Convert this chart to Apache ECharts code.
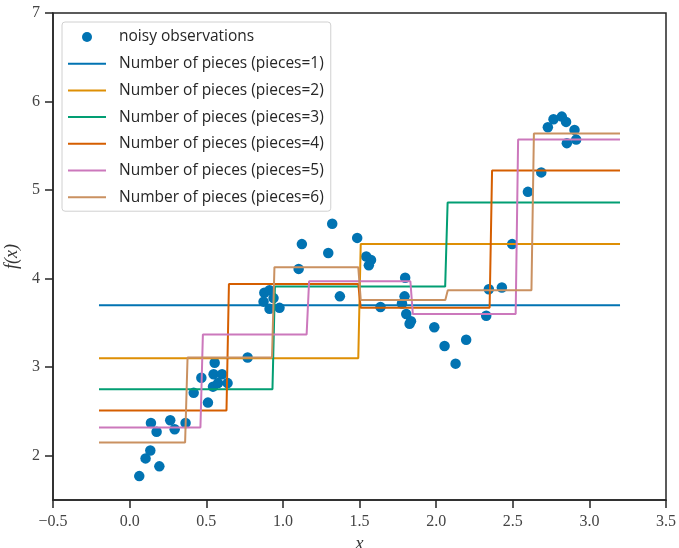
<!DOCTYPE html>
<html>
<head>
<meta charset="utf-8">
<script src="https://cdn.jsdelivr.net/npm/echarts@6/dist/echarts.min.js"></script>
<style>
  html, body { margin: 0; padding: 0; background: #fff; }
  #chart { width: 679px; height: 548px; }
</style>
</head>
<body>
<div id="chart"></div>
<script>
// noisy observations
const obsX = [0.063, 0.104, 0.135, 0.194, 0.139, 0.176, 0.265, 0.294, 0.365, 0.418, 0.511, 0.468, 0.555, 0.548, 0.603, 0.544, 0.577, 0.639, 0.770,
  0.879, 0.913, 0.939, 0.874, 0.913, 0.978, 1.103, 1.124, 1.296, 1.322, 1.372, 1.485, 1.544, 1.575, 1.561, 1.637,
  1.798, 1.794, 1.777, 1.805, 1.836, 1.827, 1.988, 2.055, 2.127, 2.196, 2.327, 2.344, 2.429,
  2.496, 2.599, 2.686, 2.729, 2.766, 2.820, 2.848, 2.903, 2.914, 2.853]
const obsY = [1.77, 1.97, 2.06, 1.88, 2.37, 2.27, 2.40, 2.30, 2.37, 2.71, 2.60, 2.88, 3.05, 2.92, 2.92, 2.78, 2.82, 2.82, 3.11,
  3.84, 3.87, 3.78, 3.74, 3.66, 3.67, 4.11, 4.39, 4.29, 4.62, 3.80, 4.46, 4.25, 4.21, 4.15, 3.68,
  4.01, 3.80, 3.72, 3.60, 3.52, 3.49, 3.45, 3.24, 3.04, 3.31, 3.58, 3.88, 3.90,
  4.39, 4.98, 5.20, 5.71, 5.80, 5.83, 5.77, 5.68, 5.57, 5.53]

// piecewise constant fits: where each one jumps, and its levels
const pieceBreaks = [
  [],
  [1.50],
  [0.940, 2.067],
  [0.640, 1.500, 2.357],
  [0.470, 1.163, 1.840, 2.527],
  [0.370, 0.937, 1.500, 2.068, 2.630]
]
const pieceLevels = [
  [3.70],
  [3.10, 4.39],
  [2.75, 3.91, 4.86],
  [2.51, 3.94, 3.67, 5.22],
  [2.32, 3.37, 3.97, 3.60, 5.57],
  [2.15, 3.11, 4.13, 3.76, 3.87, 5.64]
]
const fitRange = [-0.2, 3.2]

const xTicks = [-0.5, 0, 0.5, 1, 1.5, 2, 2.5, 3, 3.5]
const yTicks = [2, 3, 4, 5, 6, 7]

const colors = ['#0173B2', '#DE8F05', '#029E73', '#D55E00', '#CC78BC', '#CA9161']

function stepPoints(breaks, levels) {
  const pts = [[fitRange[0], levels[0]]]
  breaks.forEach((b, i) => {
    pts.push([b - 0.008, levels[i]])
    pts.push([b + 0.008, levels[i + 1]])
  })
  pts.push([fitRange[1], levels[levels.length - 1]])
  return pts
}

const serif = '"Liberation Serif", "DejaVu Serif", serif'
const axisColor = '#262626'
const lineIcon = 'path://M0,0L38,0L38,2L0,2Z'

const series = [{
  name: 'noisy observations',
  type: 'scatter',
  symbolSize: 10.5,
  itemStyle: { color: '#0173B2', opacity: 1 },
  z: 2,
  data: obsX.map((x, i) => [x, obsY[i]])
}]
pieceLevels.forEach((levels, k) => {
  series.push({
    name: 'Number of pieces (pieces=' + (k + 1) + ')',
    type: 'line',
    symbol: 'none',
    z: 3,
    lineStyle: { color: colors[k], width: 2 },
    itemStyle: { color: colors[k] },
    data: stepPoints(pieceBreaks[k], levels)
  })
})

const chart = echarts.init(document.getElementById('chart'))
chart.setOption({
  animation: false,
  grid: {
    left: 53, right: 13, top: 13, bottom: 48,
    outerBoundsMode: 'none',
    containLabel: false,
    show: true, borderColor: axisColor, borderWidth: 1.5
  },
  legend: {
    orient: 'vertical',
    left: 62, top: 22,
    padding: [7, 7, 6, 6],
    itemWidth: 38,
    itemHeight: 10,
    itemGap: 10.7,
    backgroundColor: 'rgba(255,255,255,0.8)',
    borderColor: '#d0d0d0',
    borderWidth: 1,
    borderRadius: 3,
    textStyle: {
      fontFamily: '"Open Sans", sans-serif',
      fontSize: 15.5,
      lineHeight: 16,
      color: '#262626',
      padding: [0, 0, 0, 8]
    },
    data: [{ name: 'noisy observations', icon: 'circle' }].concat(
      pieceLevels.map((_, k) => ({ name: 'Number of pieces (pieces=' + (k + 1) + ')', icon: lineIcon })))
  },
  xAxis: {
    type: 'value',
    min: -0.5, max: 3.5, interval: 0.5,
    name: 'x',
    nameLocation: 'middle',
    nameGap: 32,
    nameTextStyle: { fontFamily: serif, fontStyle: 'italic', fontSize: 18, color: '#333' },
    axisLine: { show: true, onZero: false, lineStyle: { color: axisColor, width: 1.5 } },
    axisTick: { show: true, length: 8, lineStyle: { color: axisColor, width: 1.5 }, customValues: xTicks },
    axisLabel: {
      margin: 14, fontFamily: serif, fontSize: 16, color: '#444',
      customValues: xTicks,
      formatter: v => v.toFixed(1).replace('-', '\u2212')
    },
    splitLine: { show: false }
  },
  yAxis: {
    type: 'value',
    min: 1.5, max: 7,
    name: 'f(x)',
    nameLocation: 'middle',
    nameGap: 26,
    nameRotate: 90,
    nameTextStyle: { fontFamily: serif, fontStyle: 'italic', fontSize: 18, color: '#333' },
    axisLine: { show: true, onZero: false, lineStyle: { color: axisColor, width: 1.5 } },
    axisTick: { show: true, length: 8, lineStyle: { color: axisColor, width: 1.5 }, customValues: yTicks },
    axisLabel: {
      margin: 13, fontFamily: serif, fontSize: 16, color: '#444',
      customValues: yTicks
    },
    splitLine: { show: false }
  },
  series: series
})
</script>
</body>
</html>
